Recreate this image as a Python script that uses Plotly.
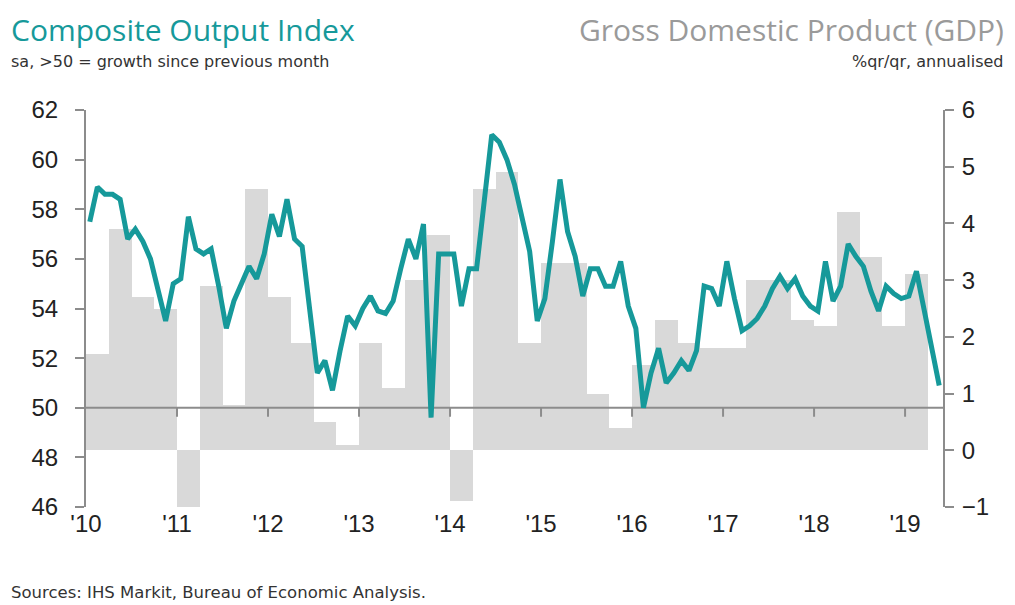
import plotly.graph_objects as go

# US composite PMI, monthly Jan 2010 .. May 2019
pmi = [
    57.5, 58.9, 58.6, 58.6, 58.4, 56.8, 57.2, 56.7, 56.0, 54.7, 53.5, 55.0,
    55.2, 57.7, 56.4, 56.2, 56.4, 54.9, 53.2, 54.3, 55.0, 55.7, 55.2, 56.2,
    57.8, 56.9, 58.4, 56.8, 56.5, 53.9, 51.4, 51.9, 50.7, 52.3, 53.7, 53.3,
    54.0, 54.5, 53.9, 53.8, 54.3, 55.6, 56.8, 56.0, 57.4, 49.6, 56.2, 56.2,
    56.2, 54.1, 55.6, 55.6, 58.3, 61.0, 60.7, 60.0, 59.0, 57.6, 56.3, 53.5,
    54.4, 56.7, 59.2, 57.1, 56.1, 54.5, 55.6, 55.6, 54.9, 54.9, 55.9, 54.1,
    53.2, 50.0, 51.4, 52.4, 51.0, 51.4, 51.9, 51.5, 52.3, 54.9, 54.8, 54.1,
    55.9, 54.4, 53.1, 53.3, 53.6, 54.1, 54.8, 55.3, 54.8, 55.2, 54.5, 54.1,
    53.9, 55.9, 54.3, 54.9, 56.6, 56.1, 55.7, 54.7, 53.9, 54.9, 54.6, 54.4,
    54.5, 55.5, 53.9, 52.5, 50.9,
]

# GDP %q/q annualised, Q1 2010 .. Q1 2019
gdp = [
    1.7, 3.9, 2.7, 2.5,
    -1.0, 2.9, 0.8, 4.6,
    2.7, 1.9, 0.5, 0.1,
    1.9, 1.1, 3.0, 3.8,
    -0.9, 4.6, 4.9, 1.9,
    3.3, 3.3, 1.0, 0.4,
    1.5, 2.3, 1.9, 1.8,
    1.8, 3.0, 3.0, 2.3,
    2.2, 4.2, 3.4, 2.2,
    3.1,
]

years = ["'10", "'11", "'12", "'13", "'14", "'15", "'16", "'17", "'18", "'19"]

TEAL = "#16999a"
BAR = "#d9d9d9"
AXIS = "#8c8c8c"
TXT = "#222222"

# page has an 8px body margin, so the figure is a bit smaller than the window
OFF = 8
W, H = 1015 - OFF, 605 - OFF
L, R, T, B = 86 - OFF, 72, 110 - OFF, 98
x_end = 113  # months shown on the axis

month_x = [i + 0.5 for i in range(len(pmi))]
quarter_x = [q * 3 + 1.5 for q in range(len(gdp))]
year_x = [12 * k for k in range(len(years))]


def px(x):
    return (x - OFF - L) / (W - L - R)


def py(y):
    return (H - B - (y - OFF)) / (H - T - B)


fig = go.Figure()

fig.add_trace(go.Bar(
    x=quarter_x, y=gdp, width=3, marker_color=BAR, marker_line_width=0,
    yaxis="y", showlegend=False,
))

# horizontal axis line at 50, drawn under the PMI line but over the bars
fig.add_trace(go.Scatter(
    x=[0, x_end], y=[50, 50], mode="lines", yaxis="y2",
    line=dict(color=AXIS, width=2), showlegend=False, hoverinfo="skip",
))

fig.add_trace(go.Scatter(
    x=month_x, y=pmi, mode="lines", yaxis="y2",
    line=dict(color=TEAL, width=5), showlegend=False,
))

for xv in year_x[1:]:
    fig.add_shape(
        type="line", xref="x", yref="y2", x0=xv, x1=xv,
        ysizemode="pixel", yanchor=50, y0=0, y1=-9,
        line=dict(color=AXIS, width=2),
    )

axis_font = dict(family="Liberation Sans, Arial", size=24, color=TXT)
yax = dict(
    showline=True, linecolor=AXIS, linewidth=2,
    ticks="outside", ticklen=9, tickwidth=2, tickcolor=AXIS,
    showgrid=False, zeroline=False, tickfont=axis_font,
)

fig.update_layout(
    width=W, height=H,
    margin=dict(l=L, r=R, t=T, b=B),
    plot_bgcolor="white", paper_bgcolor="white",
    bargap=0,
    xaxis=dict(
        range=[0, x_end], tickmode="array", tickvals=year_x, ticktext=years,
        showline=False, ticks="", showgrid=False, zeroline=False,
        tickfont=axis_font,
    ),
    yaxis=dict(range=[-1, 6], dtick=1, side="right", ticklabelstandoff=3, **yax),
    yaxis2=dict(range=[46, 62], dtick=2, side="left", overlaying="y",
                ticklabelstandoff=12, **yax),
)

texts = [
    ("Composite Output Index", 10, 30, "left", 30, TEAL, "Open Sans"),
    ("sa, >50 = growth since previous month", 10, 62, "left", 16, "#333333", "DejaVu Sans"),
    ("Gross Domestic Product (GDP)", 1005, 30, "right", 30, "#9a9a9a", "Open Sans"),
    ("%qr/qr, annualised", 1005, 62, "right", 16, "#333333", "DejaVu Sans"),
    ("Sources: IHS Markit, Bureau of Economic Analysis.", 10, 592, "left", 16.5, "#333333", "DejaVu Sans"),
]
for text, x, y, anchor, size, color, family in texts:
    fig.add_annotation(
        text=text, xref="paper", yref="paper", x=px(x), y=py(y),
        xanchor=anchor, yanchor="middle", showarrow=False, borderpad=0,
        font=dict(family=family, size=size, color=color),
    )

fig.write_html("out.html")
